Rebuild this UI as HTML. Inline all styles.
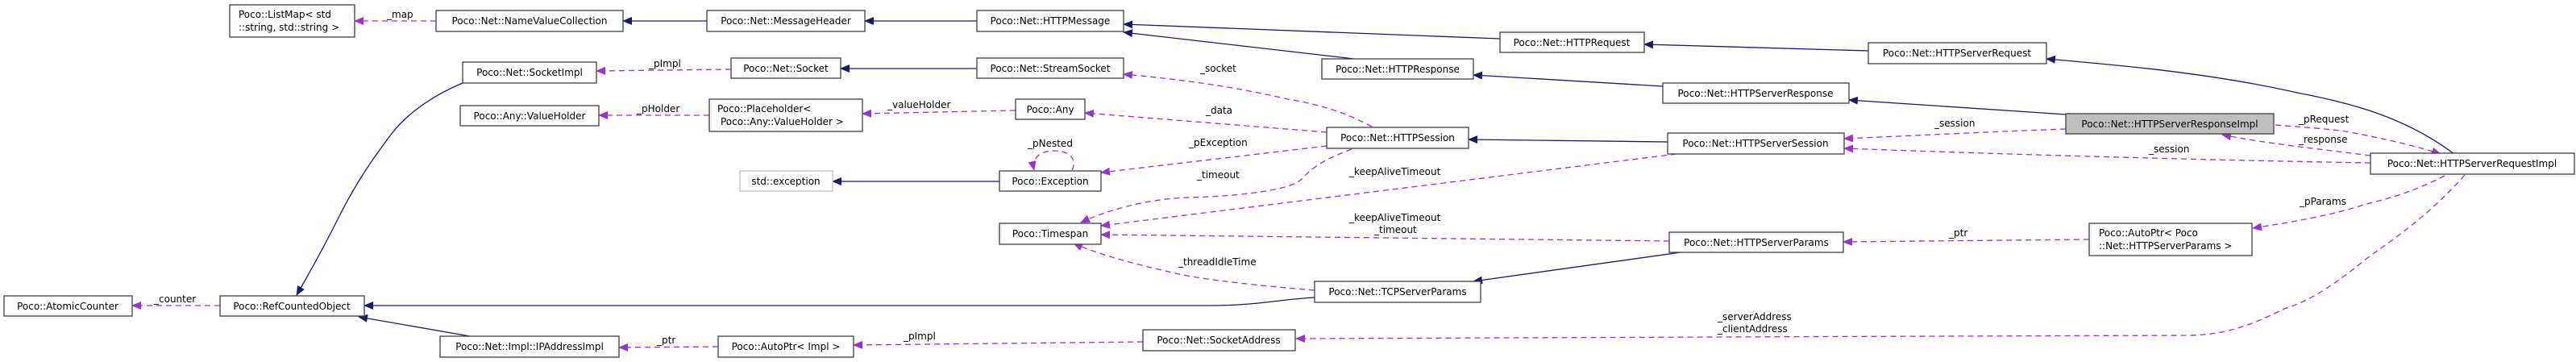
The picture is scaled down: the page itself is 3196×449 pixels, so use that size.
<!DOCTYPE html>
<html><head><meta charset="utf-8"><style>
html,body{margin:0;padding:0;background:#fff;}
svg{display:block;}
text{font-family:"DejaVu Sans","Liberation Sans",sans-serif;font-size:12px;fill:#000;}
.b{fill:#fff;stroke:#404040;stroke-width:1.3;}
.i{fill:none;stroke:#191970;stroke-width:1.3;}
.u{fill:none;stroke:#9a32cd;stroke-width:1.3;stroke-dasharray:7,5;}
</style></head><body>
<svg width="3196" height="449" viewBox="0 0 3196 449" xmlns="http://www.w3.org/2000/svg">
<defs>
<marker id="ai" markerWidth="12" markerHeight="10" refX="11" refY="5" orient="auto" markerUnits="userSpaceOnUse"><path d="M0,0 L12,5 L0,10 Z" fill="#191970"/></marker>
<marker id="au" markerWidth="12" markerHeight="10" refX="11" refY="5" orient="auto" markerUnits="userSpaceOnUse"><path d="M0,0 L12,5 L0,10 Z" fill="#9a32cd"/></marker>
</defs>

<!-- inheritance edges -->
<g class="i">
<path d="M877,26 L773,26" marker-end="url(#ai)"/>
<path d="M1212,26 L1073,26" marker-end="url(#ai)"/>
<path d="M1861,48 L1394,30" marker-end="url(#ai)"/>
<path d="M1680,73 L1394,40" marker-end="url(#ai)"/>
<path d="M2318,63 L2040,55" marker-end="url(#ai)"/>
<path d="M2063,107 L1828,93" marker-end="url(#ai)"/>
<path d="M2563,142 L2294,124" marker-end="url(#ai)"/>
<path d="M3045,191 C2990,150 2930,130 2850,115 C2740,90 2620,80 2539,73" marker-end="url(#ai)"/>
<path d="M1212,85 L1043,85" marker-end="url(#ai)"/>
<path d="M1240,225 L1033,225" marker-end="url(#ai)"/>
<path d="M2069,176 L1822,173" marker-end="url(#ai)"/>
<path d="M2085,313 L1828,349" marker-end="url(#ai)"/>
<path d="M1631,369 C1590,371 1560,379 1500,379 L452,379" marker-end="url(#ai)"/>
<path d="M574,103 C540,117 505,140 485,167 C460,200 440,230 420,270 C395,320 380,345 368,366" marker-end="url(#ai)"/>
<path d="M583,417 L445,393" marker-end="url(#ai)"/>
</g>

<!-- usage edges -->
<g class="u">
<path d="M541,26 L440,26" marker-end="url(#au)"/>
<path d="M907,86 L740,88" marker-end="url(#au)"/>
<path d="M1702,157 C1670,140 1640,130 1598,123 C1520,105 1450,97 1394,92" marker-end="url(#au)"/>
<path d="M880,143 L743,143" marker-end="url(#au)"/>
<path d="M1260,137 L1070,141" marker-end="url(#au)"/>
<path d="M1646,164 L1346,140" marker-end="url(#au)"/>
<path d="M1646,181 L1366,214" marker-end="url(#au)"/>
<path d="M1330,211 C1336,200 1330,187 1308,187 C1288,187 1280,198 1283,211" marker-end="url(#au)"/>
<path d="M1677,185 C1650,195 1630,205 1615,222 C1600,238 1520,244 1473,245 C1420,247 1370,262 1341,276" marker-end="url(#au)"/>
<path d="M2080,191 L1366,280" marker-end="url(#au)"/>
<path d="M2071,299 L1366,291" marker-end="url(#au)"/>
<path d="M1631,360 C1580,356 1500,348 1463,340 C1410,328 1370,318 1332,302" marker-end="url(#au)"/>
<path d="M273,379 L164,379" marker-end="url(#au)"/>
<path d="M891,430 L768,431" marker-end="url(#au)"/>
<path d="M1418,424 L1059,428" marker-end="url(#au)"/>
<path d="M2563,160 C2480,163 2400,167 2288,172" marker-end="url(#au)"/>
<path d="M2941,202 C2700,198 2450,190 2288,184" marker-end="url(#au)"/>
<path d="M2941,193 C2880,185 2810,178 2757,167" marker-end="url(#au)"/>
<path d="M2823,155 C2860,158 2890,160 2910,163 C2960,172 3000,182 3028,191" marker-end="url(#au)"/>
<path d="M3033,218 C3000,235 2970,245 2936,253 C2890,268 2840,276 2795,283" marker-end="url(#au)"/>
<path d="M2592,297 L2287,300" marker-end="url(#au)"/>
<path d="M3058,217 C3020,260 2980,290 2941,317 C2900,350 2870,372 2834,383 C2790,405 2760,415 2716,416 L2400,417 L1608,420" marker-end="url(#au)"/>
</g>

<!-- boxes -->
<g>
<rect class="b" x="285" y="6" width="155" height="40"/>
<text x="296" y="22">Poco::ListMap&lt; std</text><text x="296" y="38">::string, std::string &gt;</text>
<rect class="b" x="541" y="13" width="232" height="26"/><text x="657" y="30" text-anchor="middle">Poco::Net::NameValueCollection</text>
<rect class="b" x="574" y="77" width="166" height="26"/><text x="657" y="94" text-anchor="middle">Poco::Net::SocketImpl</text>
<rect class="b" x="571" y="131" width="172" height="25"/><text x="657" y="148" text-anchor="middle">Poco::Any::ValueHolder</text>
<rect class="b" x="5" y="367" width="159" height="25"/><text x="84" y="384" text-anchor="middle">Poco::AtomicCounter</text>
<rect class="b" x="273" y="367" width="179" height="25"/><text x="362" y="384" text-anchor="middle">Poco::RefCountedObject</text>
<rect class="b" x="546" y="417" width="222" height="26"/><text x="657" y="434" text-anchor="middle">Poco::Net::Impl::IPAddressImpl</text>

<rect class="b" x="877" y="13" width="196" height="26"/><text x="975" y="30" text-anchor="middle">Poco::Net::MessageHeader</text>
<rect class="b" x="1212" y="13" width="182" height="26"/><text x="1303" y="30" text-anchor="middle">Poco::Net::HTTPMessage</text>
<rect class="b" x="907" y="72" width="136" height="25"/><text x="975" y="89" text-anchor="middle">Poco::Net::Socket</text>
<rect class="b" x="1212" y="72" width="182" height="25"/><text x="1303" y="89" text-anchor="middle">Poco::Net::StreamSocket</text>
<rect class="b" x="880" y="123" width="190" height="40"/>
<text x="890" y="139">Poco::Placeholder&lt;</text><text x="894" y="155">Poco::Any::ValueHolder &gt;</text>
<rect class="b" x="1260" y="123" width="86" height="25"/><text x="1303" y="140" text-anchor="middle">Poco::Any</text>
<rect x="918" y="212" width="115" height="25" fill="#fff" stroke="#bfbfbf" stroke-width="1.3"/><text x="975" y="229" text-anchor="middle">std::exception</text>
<rect class="b" x="1240" y="212" width="126" height="25"/><text x="1303" y="229" text-anchor="middle">Poco::Exception</text>
<rect class="b" x="1240" y="277" width="126" height="26"/><text x="1303" y="294" text-anchor="middle">Poco::Timespan</text>
<rect class="b" x="891" y="417" width="168" height="26"/><text x="975" y="434" text-anchor="middle">Poco::AutoPtr&lt; Impl &gt;</text>
<rect class="b" x="1418" y="409" width="189" height="26"/><text x="1512" y="426" text-anchor="middle">Poco::Net::SocketAddress</text>

<rect class="b" x="1861" y="40" width="179" height="25"/><text x="1950" y="57" text-anchor="middle">Poco::Net::HTTPRequest</text>
<rect class="b" x="2318" y="53" width="221" height="26"/><text x="2428" y="70" text-anchor="middle">Poco::Net::HTTPServerRequest</text>
<rect class="b" x="1640" y="73" width="188" height="25"/><text x="1734" y="90" text-anchor="middle">Poco::Net::HTTPResponse</text>
<rect class="b" x="2063" y="103" width="231" height="25"/><text x="2178" y="120" text-anchor="middle">Poco::Net::HTTPServerResponse</text>
<rect class="b" x="1646" y="158" width="176" height="26"/><text x="1734" y="175" text-anchor="middle">Poco::Net::HTTPSession</text>
<rect class="b" x="2069" y="165" width="219" height="26"/><text x="2178" y="182" text-anchor="middle">Poco::Net::HTTPServerSession</text>
<rect class="b" x="2071" y="288" width="216" height="25"/><text x="2179" y="305" text-anchor="middle">Poco::Net::HTTPServerParams</text>
<rect class="b" x="1631" y="349" width="206" height="26"/><text x="1734" y="366" text-anchor="middle">Poco::Net::TCPServerParams</text>

<rect x="2563" y="141" width="258" height="25" fill="#bfbfbf" stroke="#404040" stroke-width="1.3"/><text x="2692" y="158" text-anchor="middle">Poco::Net::HTTPServerResponseImpl</text>
<rect class="b" x="2941" y="190" width="253" height="26"/><text x="3067" y="207" text-anchor="middle">Poco::Net::HTTPServerRequestImpl</text>
<rect class="b" x="2592" y="277" width="202" height="40"/>
<text x="2604" y="293">Poco::AutoPtr&lt; Poco</text><text x="2604" y="309">::Net::HTTPServerParams &gt;</text>
</g>

<!-- labels -->
<g>
<text x="480" y="22">_map</text>
<text x="805" y="83">_pImpl</text>
<text x="790" y="139">_pHolder</text>
<text x="1101" y="134">_valueHolder</text>
<text x="1489" y="89">_socket</text>
<text x="1496" y="141">_data</text>
<text x="1275" y="182">_pNested</text>
<text x="1475" y="181">_pException</text>
<text x="1485" y="221">_timeout</text>
<text x="1462" y="329">_threadIdleTime</text>
<text x="1121" y="421">_pImpl</text>
<text x="815" y="426">_ptr</text>
<text x="191" y="375">_counter</text>
<text x="1674" y="217">_keepAliveTimeout</text>
<text x="1674" y="274">_keepAliveTimeout</text>
<text x="1705" y="289">_timeout</text>
<text x="2131" y="397">_serverAddress</text>
<text x="2131" y="412">_clientAddress</text>
<text x="2400" y="157">_session</text>
<text x="2852" y="152">_pRequest</text>
<text x="2852" y="177">_response</text>
<text x="2666" y="189">_session</text>
<text x="2853" y="254">_pParams</text>
<text x="2418" y="293">_ptr</text>
</g>
</svg>
</body></html>
